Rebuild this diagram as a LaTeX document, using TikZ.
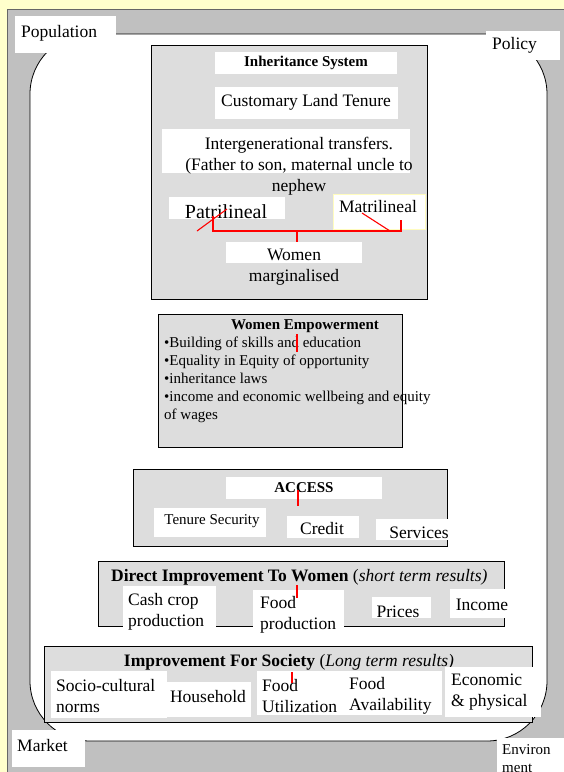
\documentclass[tikz,border=0pt]{standalone}
\usepackage{fontspec}
\setmainfont{Liberation Serif}
\definecolor{paper}{HTML}{FFFFCC}
\definecolor{framegray}{HTML}{C0C0C0}
\definecolor{panelgray}{HTML}{DDDDDD}
\tikzset{
  wbox/.style={fill=white},
  panel/.style={fill=panelgray, draw=black, line width=.9pt},
  lbl/.style={inner sep=0pt, font=\fontsize{17.5}{21}\selectfont},
  sml/.style={inner sep=0pt, font=\fontsize{15}{18}\selectfont},
  redmark/.style={red, line width=1.1pt},
}
\begin{document}
\begin{tikzpicture}[x=1pt,y=-1pt]
\useasboundingbox (0,0) rectangle (564,772);
\fill[paper] (0,0) rectangle (564,772);
\filldraw[framegray, draw=black!60] (7,9) rectangle (570,780);
\filldraw[white, draw=black, line width=.8pt, rounded corners=60] (30,34) rectangle (547,741);

% corner labels
\fill[wbox] (15,16) rectangle (116,53);
\node[lbl, anchor=west] (pop) at (21,33) {Population};
\fill[wbox] (486,31) rectangle (560,60);
\node[lbl, anchor=west] (pol) at (492,45) {Policy};
\fill[wbox] (12,730) rectangle (85,767);
\node[lbl, anchor=west] (mkt) at (17,746) {Market};
\fill[wbox] (497,738) rectangle (566,774);
\node[sml, anchor=north west, align=left] (env) at (502,744) {Environ\\ment};

% inheritance
\filldraw[panel] (151,45) rectangle (427,299);
\fill[wbox] (215,52) rectangle (397,74);
\node[sml, font=\fontsize{15}{18}\selectfont\bfseries] (inh) at (306,63) {Inheritance System};
\fill[wbox] (215,87) rectangle (398,119);
\node[lbl] (cust) at (306,102) {Customary Land Tenure};
\fill[wbox] (162,129) rectangle (410,173);
\node[lbl, align=center] (inter) at (299,166) {Intergenerational transfers.\\(Father to son, maternal uncle to\\nephew};
\fill[wbox] (169,197) rectangle (285,219);
\node[inner sep=0pt, font=\fontsize{20}{24}\selectfont] (patri) at (226,212) {Patrilineal};
\filldraw[white, draw=yellow!25] (333,194) rectangle (425,229);
\node[lbl] (matri) at (378,207) {Matrilineal};
\fill[wbox] (226,242) rectangle (362,263);
\node[lbl, align=center] (marg) at (294,267) {Women\\marginalised};
\draw[redmark] (213,216) -- (213,231) -- (401,231) -- (401,220);
\draw[redmark] (197,231) -- (227,209);
\draw[redmark] (362,213) -- (390,231);
\draw[redmark] (297,231) -- (297,242);

% empowerment
\filldraw[panel] (158,314) rectangle (402,447);
\node[sml, font=\fontsize{15}{18}\selectfont\bfseries] (emp) at (305,326) {Women Empowerment};
\node[sml, anchor=west, align=left] (empl) at (164,380) {\textbullet Building of skills and education\\
\textbullet Equality in Equity of opportunity\\
\textbullet inheritance laws\\
\textbullet income and economic wellbeing and equity\\
of wages};
\draw[redmark] (297,334) -- (297,352);

% access
\filldraw[panel] (133,469) rectangle (447,546);
\fill[wbox] (226,477) rectangle (382,499);
\node[sml, font=\fontsize{15}{18}\selectfont\bfseries] (acc) at (304,488) {ACCESS};
\fill[wbox] (154,508) rectangle (266,537);
\node[sml] (ten) at (212,521) {Tenure Security};
\fill[wbox] (287,516) rectangle (359,538);
\node[lbl] (cred) at (322,529) {Credit};
\fill[wbox] (376,519) rectangle (461,540);
\node[lbl] (serv) at (419,533) {Services};
\draw[redmark] (298,490) -- (298,506);

% direct improvement
\filldraw[panel] (98,561) rectangle (504,626);
\node[lbl, anchor=west] (dir) at (111,577) {\textbf{Direct Improvement To Women} (\textit{short term results)}};
\fill[wbox] (123,586) rectangle (216,627);
\node[lbl, anchor=west, align=left] (cash) at (128,612) {Cash crop\\production};
\fill[wbox] (253,590) rectangle (344,633);
\node[lbl, anchor=west, align=left] (food) at (260,615) {Food\\production};
\fill[wbox] (372,597) rectangle (431,618);
\node[lbl] (pri) at (398,612) {Prices};
\fill[wbox] (450,589) rectangle (510,618);
\node[lbl] (inc) at (482,605) {Income};
\draw[redmark] (297,585) -- (297,598);

% society
\filldraw[panel] (44,646) rectangle (532,722);
\node[lbl] (soc) at (289,662) {\textbf{Improvement For Society} (\textit{Long term results)}};
\fill[wbox] (51,671) rectangle (167,718);
\node[lbl, anchor=west, align=left] (norms) at (56,696) {Socio-cultural\\norms};
\fill[wbox] (167,682) rectangle (251,717);
\node[lbl] (hh) at (208,697) {Household};
\fill[wbox] (257,671) rectangle (442,715);
\node[lbl, anchor=west, align=left] (futil) at (262,696) {Food\\Utilization};
\node[lbl, anchor=west, align=left] (favail) at (349,696) {Food\\Availability};
\fill[wbox] (445,667) rectangle (541,717);
\node[lbl, anchor=west, align=left] (econ) at (451,692) {Economic\\\& physical};
\draw[redmark] (292,672) -- (292,683);
\end{tikzpicture}
\end{document}
